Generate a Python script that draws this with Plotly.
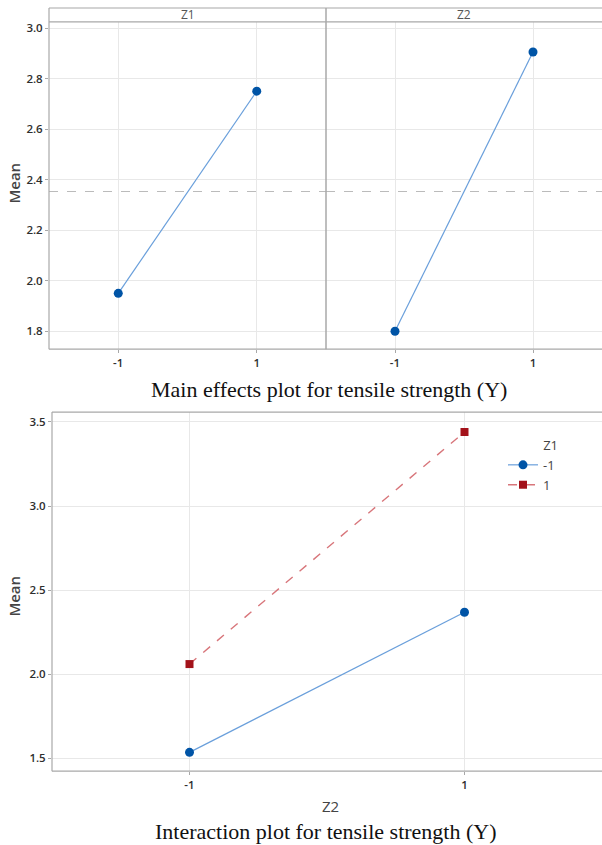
import plotly.graph_objects as go

# ---------------- data ----------------
levels = [-1, 1]
level_labels = ["-1", "1"]
main_z1 = [1.95, 2.75]
main_z2 = [1.80, 2.905]
grand_mean = 2.353
inter_z1_m1 = [1.535, 2.368]   # Z1 = -1, across Z2 = -1, 1
inter_z1_p1 = [2.06, 3.44]     # Z1 = 1, across Z2 = -1, 1
legend_names = ["-1", "1"]
top_yticks = [1.8, 2.0, 2.2, 2.4, 2.6, 2.8, 3.0]
bot_yticks = [1.5, 2.0, 2.5, 3.0, 3.5]

W, H = 602, 845
def px(x): return x / W
def py(y): return 1 - y / H

BLUE_M = "#0054A6"
BLUE_L = "#6A9FDB"
RED_M = "#A3121A"
RED_L = "#D8767B"
FRAME = "#A8A8A8"
GRID = "#E8E8E8"
TICKC = "#2E2E2E"
SANS = "Open Sans, Noto Sans, sans-serif"
tickfont = dict(family=SANS, size=11.5, color=TICKC, weight=600)

fig = go.Figure()

# main effects
fig.add_trace(go.Scatter(x=levels, y=main_z1, mode="lines+markers", xaxis="x", yaxis="y",
                         line=dict(color=BLUE_L, width=1.2),
                         marker=dict(color=BLUE_M, size=9, symbol="circle"), showlegend=False))
fig.add_trace(go.Scatter(x=levels, y=main_z2, mode="lines+markers", xaxis="x2", yaxis="y2",
                         line=dict(color=BLUE_L, width=1.2),
                         marker=dict(color=BLUE_M, size=9, symbol="circle"), showlegend=False))
for xa, ya in (("x", "y"), ("x2", "y2")):
    fig.add_trace(go.Scatter(x=[-2, 2], y=[grand_mean, grand_mean], mode="lines", xaxis=xa, yaxis=ya,
                             line=dict(color="#BBBBBB", width=1, dash="dash"), showlegend=False,
                             hoverinfo="skip"))

# interaction
fig.add_trace(go.Scatter(x=levels, y=inter_z1_m1, mode="lines+markers", xaxis="x3", yaxis="y3",
                         name=legend_names[0],
                         line=dict(color=BLUE_L, width=1.2),
                         marker=dict(color=BLUE_M, size=9, symbol="circle")))
fig.add_trace(go.Scatter(x=levels, y=inter_z1_p1, mode="lines+markers", xaxis="x3", yaxis="y3",
                         name=legend_names[1],
                         line=dict(color=RED_L, width=1.4, dash="dash"),
                         marker=dict(color=RED_M, size=8, symbol="square")))

common_x = dict(range=[-2, 2], tickvals=levels, ticktext=level_labels, showgrid=True,
                gridcolor=GRID, gridwidth=1, zeroline=False, tickfont=tickfont,
                ticks="outside", ticklen=3, tickcolor=FRAME, showline=False, fixedrange=True)
common_y = dict(showgrid=True, gridcolor=GRID, gridwidth=1, zeroline=False, tickfont=tickfont,
                ticklen=3, tickcolor=FRAME, showline=False, fixedrange=True)

top_dom = [py(348), py(20)]
bot_dom = [py(771), py(411)]

fig.update_layout(
    width=W, height=H, margin=dict(l=0, r=0, t=0, b=0),
    paper_bgcolor="white", plot_bgcolor="white",
    xaxis=dict(domain=[px(49), px(326)], anchor="y", **common_x),
    xaxis2=dict(domain=[px(326), 1.0], anchor="y2", **common_x),
    yaxis=dict(domain=top_dom, anchor="x", range=[1.729, 3.024], tickvals=top_yticks,
               tickformat=".1f", ticks="outside", **common_y),
    yaxis2=dict(domain=top_dom, anchor="x2", range=[1.729, 3.024], tickvals=top_yticks,
                showticklabels=False, ticks="", **common_y),
    xaxis3=dict(domain=[px(52), 1.0], anchor="y3", **common_x),
    yaxis3=dict(domain=bot_dom, anchor="x3", range=[1.423, 3.559], tickvals=bot_yticks,
                tickformat=".1f", ticks="outside", **common_y),
    legend=dict(x=px(503), y=py(432), xanchor="left", yanchor="top",
                title=dict(text="Z1", side="top right",
                           font=dict(family=SANS, size=13, color="#444")),
                font=dict(family=SANS, size=13, color="#444"),
                bgcolor="rgba(0,0,0,0)", tracegroupgap=0),
    showlegend=True,
)

shapes = []
def line(x0, y0, x1, y1, w=1.2):
    shapes.append(dict(type="line", xref="paper", yref="paper", x0=px(x0), y0=py(y0),
                       x1=px(x1), y1=py(y1), line=dict(color=FRAME, width=w)))
# top frame
line(49, 6, 49, 348)
line(49, 348, 602, 348)
line(49, 6, 602, 6)
line(49, 20, 602, 20)
line(326, 6, 326, 348, 1.5)
# bottom frame
line(52, 411, 602, 411)
line(52, 411, 52, 771)
line(52, 771, 602, 771)
fig.update_layout(shapes=shapes)

ann = []
def add(text, x, y, font, angle=0):
    ann.append(dict(text=text, x=px(x), y=py(y), xref="paper", yref="paper", showarrow=False,
                    xanchor="center", yanchor="middle", textangle=angle, font=font))
lab = dict(family=SANS, size=12, color="#555")
add("Z1", 187.5, 13, lab)
add("Z2", 464, 13, lab)
meanf = dict(family=SANS, size=15, color="#444", weight=600)
add("Mean", 14, 182, meanf, -90)
add("Mean", 14, 596, meanf, -90)
add("Z2", 330, 806, dict(family=SANS, size=15, color="#444"))
capf = dict(family="Liberation Serif, Times New Roman, serif", size=22, color="#111")
add("Main effects plot for tensile strength (Y)", 329, 388, capf)
add("Interaction plot for tensile strength (Y)", 326, 831, capf)
fig.update_layout(annotations=ann)

fig.write_html("out.html")
